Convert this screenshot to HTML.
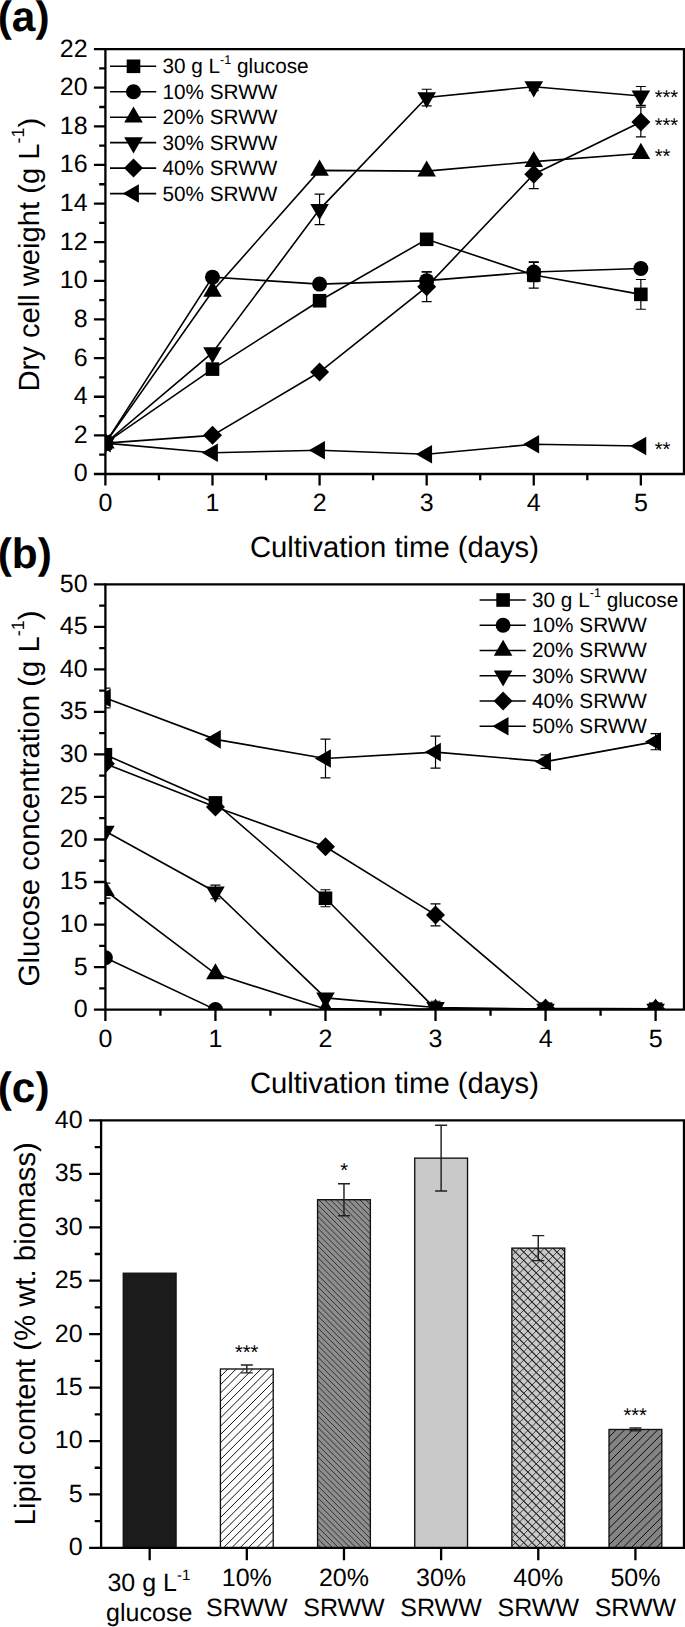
<!DOCTYPE html>
<html lang="en">
<head>
<meta charset="utf-8">
<title>Figure</title>
<style>html,body{margin:0;padding:0;background:#fff}body{width:685px;height:1627px;overflow:hidden}</style>
</head>
<body>
<svg width="685" height="1627" viewBox="0 0 685 1627" style="display:block" text-rendering="geometricPrecision">
<rect width="685" height="1627" fill="#fff"/>
<g id="panel-a">
<clipPath id="clipa"><rect x="105.4" y="49.05" width="578.6" height="424.95"/></clipPath>
<g clip-path="url(#clipa)">
<polyline fill="none" stroke="#000" stroke-width="1.6" points="105.40,443.09 212.49,369.11 319.58,300.74 426.67,239.31 533.76,275.05 640.85,294.36"/>
<g fill="none" stroke="#000" stroke-width="1.2">
<path d="M533.76 261.91V288.18M528.76 261.91H538.76M528.76 288.18H538.76"/>
<path d="M640.85 279.49V309.24M635.85 279.49H645.85M635.85 309.24H645.85"/>
</g>
<g fill="#000"><rect x="98.60" y="436.29" width="13.6" height="13.6"/><rect x="205.69" y="362.31" width="13.6" height="13.6"/><rect x="312.78" y="293.94" width="13.6" height="13.6"/><rect x="419.87" y="232.51" width="13.6" height="13.6"/><rect x="526.96" y="268.25" width="13.6" height="13.6"/><rect x="634.05" y="287.56" width="13.6" height="13.6"/></g>
<polyline fill="none" stroke="#000" stroke-width="1.6" points="105.40,443.09 212.49,277.17 319.58,284.12 426.67,280.65 533.76,271.96 640.85,268.48"/>
<g fill="none" stroke="#000" stroke-width="1.2">
<path d="M426.67 271.96V289.34M421.67 271.96H431.67M421.67 289.34H431.67"/>
<path d="M533.76 262.30V281.61M528.76 262.30H538.76M528.76 281.61H538.76"/>
</g>
<g fill="#000"><circle cx="105.40" cy="443.09" r="7.5"/><circle cx="212.49" cy="277.17" r="7.5"/><circle cx="319.58" cy="284.12" r="7.5"/><circle cx="426.67" cy="280.65" r="7.5"/><circle cx="533.76" cy="271.96" r="7.5"/><circle cx="640.85" cy="268.48" r="7.5"/></g>
<polyline fill="none" stroke="#000" stroke-width="1.6" points="105.40,443.09 212.49,291.27 319.58,170.35 426.67,171.13 533.76,161.66 640.85,153.55"/>
<g fill="none" stroke="#000" stroke-width="1.2">
</g>
<g fill="#000"><polygon points="105.40,432.36 96.10,448.46 114.70,448.46"/><polygon points="212.49,280.53 203.19,296.64 221.79,296.64"/><polygon points="319.58,159.62 310.28,175.72 328.88,175.72"/><polygon points="426.67,160.39 417.37,176.50 435.97,176.50"/><polygon points="533.76,150.92 524.46,167.03 543.06,167.03"/><polygon points="640.85,142.81 631.55,158.92 650.15,158.92"/></g>
<polyline fill="none" stroke="#000" stroke-width="1.6" points="105.40,443.09 212.49,352.70 319.58,209.37 426.67,97.53 533.76,86.72 640.85,95.99"/>
<g fill="none" stroke="#000" stroke-width="1.2">
<path d="M319.58 194.11V224.63M314.58 194.11H324.58M314.58 224.63H324.58"/>
<path d="M426.67 89.23V105.84M421.67 89.23H431.67M421.67 105.84H431.67"/>
<path d="M533.76 82.85V90.58M528.76 82.85H538.76M528.76 90.58H538.76"/>
<path d="M640.85 86.52V105.45M635.85 86.52H645.85M635.85 105.45H645.85"/>
</g>
<g fill="#000"><polygon points="105.40,453.83 96.10,437.73 114.70,437.73"/><polygon points="212.49,363.43 203.19,347.33 221.79,347.33"/><polygon points="319.58,220.11 310.28,204.00 328.88,204.00"/><polygon points="426.67,108.27 417.37,92.16 435.97,92.16"/><polygon points="533.76,97.45 524.46,81.35 543.06,81.35"/><polygon points="640.85,106.73 631.55,90.62 650.15,90.62"/></g>
<polyline fill="none" stroke="#000" stroke-width="1.6" points="105.40,443.09 212.49,435.37 319.58,372.01 426.67,286.83 533.76,174.22 640.85,122.06"/>
<g fill="none" stroke="#000" stroke-width="1.2">
<path d="M319.58 369.11V374.91M314.58 369.11H324.58M314.58 374.91H324.58"/>
<path d="M426.67 271.96V301.70M421.67 271.96H431.67M421.67 301.70H431.67"/>
<path d="M533.76 159.73V188.70M528.76 159.73H538.76M528.76 188.70H538.76"/>
<path d="M640.85 107.19V136.94M635.85 107.19H645.85M635.85 136.94H645.85"/>
</g>
<g fill="#000"><polygon points="105.40,433.59 114.90,443.09 105.40,452.59 95.90,443.09"/><polygon points="212.49,425.87 221.99,435.37 212.49,444.87 202.99,435.37"/><polygon points="319.58,362.51 329.08,372.01 319.58,381.51 310.08,372.01"/><polygon points="426.67,277.33 436.17,286.83 426.67,296.33 417.17,286.83"/><polygon points="533.76,164.72 543.26,174.22 533.76,183.72 524.26,174.22"/><polygon points="640.85,112.56 650.35,122.06 640.85,131.56 631.35,122.06"/></g>
<polyline fill="none" stroke="#000" stroke-width="1.6" points="105.40,443.09 212.49,452.75 319.58,450.24 426.67,454.30 533.76,444.25 640.85,445.99"/>
<g fill="none" stroke="#000" stroke-width="1.2">
</g>
<g fill="#000"><polygon points="94.66,443.09 110.77,433.79 110.77,452.39"/><polygon points="201.75,452.75 217.86,443.45 217.86,462.05"/><polygon points="308.84,450.24 324.95,440.94 324.95,459.54"/><polygon points="415.93,454.30 432.04,445.00 432.04,463.60"/><polygon points="523.02,444.25 539.13,434.95 539.13,453.55"/><polygon points="630.11,445.99 646.22,436.69 646.22,455.29"/></g>
</g>
<g fill="none" stroke="#000" stroke-width="2.3" stroke-linecap="butt">
<path d="M105.4 474.0V49.05H684.0V474.0"/>
<path d="M93.9 474.0H685.15"/>
<path d="M99.20 454.68H105.4M93.90 435.37H105.4M99.20 416.05H105.4M93.90 396.74H105.4M99.20 377.42H105.4M93.90 358.10H105.4M99.20 338.79H105.4M93.90 319.47H105.4M99.20 300.16H105.4M93.90 280.84H105.4M99.20 261.52H105.4M93.90 242.21H105.4M99.20 222.89H105.4M93.90 203.58H105.4M99.20 184.26H105.4M93.90 164.95H105.4M99.20 145.63H105.4M93.90 126.31H105.4M99.20 107.00H105.4M93.90 87.68H105.4M99.20 68.37H105.4M93.90 49.05H105.4"/>
<path d="M105.40 474.0V485.50M158.94 474.0V480.20M212.49 474.0V485.50M266.03 474.0V480.20M319.58 474.0V485.50M373.12 474.0V480.20M426.67 474.0V485.50M480.22 474.0V480.20M533.76 474.0V485.50M587.31 474.0V480.20M640.85 474.0V485.50"/>
</g>
<g font-family='"Liberation Sans", Arial, Helvetica, sans-serif' font-size="25" fill="#000">
<text x="87.6" y="481.4" text-anchor="end">0</text>
<text x="87.6" y="442.8" text-anchor="end">2</text>
<text x="87.6" y="404.1" text-anchor="end">4</text>
<text x="87.6" y="365.5" text-anchor="end">6</text>
<text x="87.6" y="326.9" text-anchor="end">8</text>
<text x="87.6" y="288.2" text-anchor="end">10</text>
<text x="87.6" y="249.6" text-anchor="end">12</text>
<text x="87.6" y="211.0" text-anchor="end">14</text>
<text x="87.6" y="172.3" text-anchor="end">16</text>
<text x="87.6" y="133.7" text-anchor="end">18</text>
<text x="87.6" y="95.1" text-anchor="end">20</text>
<text x="87.6" y="56.5" text-anchor="end">22</text>
<text x="105.4" y="510.5" text-anchor="middle">0</text>
<text x="212.5" y="510.5" text-anchor="middle">1</text>
<text x="319.6" y="510.5" text-anchor="middle">2</text>
<text x="426.7" y="510.5" text-anchor="middle">3</text>
<text x="533.8" y="510.5" text-anchor="middle">4</text>
<text x="640.9" y="510.5" text-anchor="middle">5</text>
</g>
<text font-family='"Liberation Sans", Arial, Helvetica, sans-serif' font-size="29.17" fill="#000" transform="translate(38.6 391.5) rotate(-90)">Dry cell weight (g L<tspan font-size="18" dy="-14.2">-1</tspan><tspan dy="14.2">)</tspan></text>
<text font-family='"Liberation Sans", Arial, Helvetica, sans-serif' font-size="29.22" fill="#000" x="249.9" y="557">Cultivation time (days)</text>
<text font-family='"Liberation Sans", Arial, Helvetica, sans-serif' font-size="42.4" font-weight="bold" fill="#000" x="-2.3" y="31">(a)</text>
<path d="M110.0 66.3H156.2" stroke="#000" stroke-width="1.6" fill="none"/>
<g fill="#000"><rect x="126.70" y="59.50" width="13.6" height="13.6"/></g>
<text font-family='"Liberation Sans", Arial, Helvetica, sans-serif' font-size="20.75" fill="#000" x="162.4" y="73.2">30 g L<tspan font-size="12.6" dy="-9.6">-1</tspan><tspan dy="9.6"> glucose</tspan></text>
<path d="M110.0 91.8H156.2" stroke="#000" stroke-width="1.6" fill="none"/>
<g fill="#000"><circle cx="133.50" cy="91.75" r="7.5"/></g>
<text font-family='"Liberation Sans", Arial, Helvetica, sans-serif' font-size="20.75" fill="#000" x="162.4" y="98.7">10% SRWW</text>
<path d="M110.0 117.2H156.2" stroke="#000" stroke-width="1.6" fill="none"/>
<g fill="#000"><polygon points="133.50,106.46 124.20,122.57 142.80,122.57"/></g>
<text font-family='"Liberation Sans", Arial, Helvetica, sans-serif' font-size="20.75" fill="#000" x="162.4" y="124.1">20% SRWW</text>
<path d="M110.0 142.6H156.2" stroke="#000" stroke-width="1.6" fill="none"/>
<g fill="#000"><polygon points="133.50,153.39 124.20,137.28 142.80,137.28"/></g>
<text font-family='"Liberation Sans", Arial, Helvetica, sans-serif' font-size="20.75" fill="#000" x="162.4" y="149.5">30% SRWW</text>
<path d="M110.0 168.1H156.2" stroke="#000" stroke-width="1.6" fill="none"/>
<g fill="#000"><polygon points="133.50,158.60 143.00,168.10 133.50,177.60 124.00,168.10"/></g>
<text font-family='"Liberation Sans", Arial, Helvetica, sans-serif' font-size="20.75" fill="#000" x="162.4" y="175.0">40% SRWW</text>
<path d="M110.0 193.6H156.2" stroke="#000" stroke-width="1.6" fill="none"/>
<g fill="#000"><polygon points="122.76,193.55 138.87,184.25 138.87,202.85"/></g>
<text font-family='"Liberation Sans", Arial, Helvetica, sans-serif' font-size="20.75" fill="#000" x="162.4" y="200.5">50% SRWW</text>
<text font-family='"Liberation Sans", Arial, Helvetica, sans-serif' font-size="20" fill="#000" x="654.8" y="104.3">***</text>
<text font-family='"Liberation Sans", Arial, Helvetica, sans-serif' font-size="20" fill="#000" x="654.8" y="132.4">***</text>
<text font-family='"Liberation Sans", Arial, Helvetica, sans-serif' font-size="20" fill="#000" x="654.8" y="163.2">**</text>
<text font-family='"Liberation Sans", Arial, Helvetica, sans-serif' font-size="20" fill="#000" x="654.8" y="455.8">**</text>
</g>
<g id="panel-b">
<clipPath id="clipb"><rect x="105.4" y="584.3" width="578.6" height="425.30000000000007"/></clipPath>
<g clip-path="url(#clipb)">
<polyline fill="none" stroke="#000" stroke-width="1.6" points="105.40,754.76 215.44,802.90 325.48,898.26 435.52,1008.92 545.56,1009.17 655.60,1009.17"/>
<g fill="none" stroke="#000" stroke-width="1.2">
<path d="M325.48 889.75V906.76M320.48 889.75H330.48M320.48 906.76H330.48"/>
<path d="M435.52 1001.26V1016.57M430.52 1001.26H440.52M430.52 1016.57H440.52"/>
</g>
<g fill="#000"><rect x="98.60" y="747.96" width="13.6" height="13.6"/><rect x="208.64" y="796.10" width="13.6" height="13.6"/><rect x="318.68" y="891.46" width="13.6" height="13.6"/><rect x="428.72" y="1002.12" width="13.6" height="13.6"/><rect x="538.76" y="1002.37" width="13.6" height="13.6"/><rect x="648.80" y="1002.37" width="13.6" height="13.6"/></g>
<polyline fill="none" stroke="#000" stroke-width="1.6" points="105.40,957.71 215.44,1009.60"/>
<g fill="none" stroke="#000" stroke-width="1.2">
</g>
<g fill="#000"><circle cx="105.40" cy="957.71" r="7.5"/><circle cx="215.44" cy="1009.60" r="7.5"/></g>
<polyline fill="none" stroke="#000" stroke-width="1.6" points="105.40,890.69 215.44,973.87 325.48,1008.92 435.52,1009.17 545.56,1009.17 655.60,1009.17"/>
<g fill="none" stroke="#000" stroke-width="1.2">
<path d="M105.40 883.20V898.17M100.40 883.20H110.40M100.40 898.17H110.40"/>
</g>
<g fill="#000"><polygon points="105.40,879.95 96.10,896.06 114.70,896.06"/><polygon points="215.44,963.14 206.14,979.24 224.74,979.24"/><polygon points="325.48,998.18 316.18,1014.29 334.78,1014.29"/><polygon points="435.52,998.44 426.22,1014.54 444.82,1014.54"/><polygon points="545.56,998.44 536.26,1014.54 554.86,1014.54"/><polygon points="655.60,998.44 646.30,1014.54 664.90,1014.54"/></g>
<polyline fill="none" stroke="#000" stroke-width="1.6" points="105.40,831.23 215.44,891.96 325.48,997.86 435.52,1007.47 545.56,1009.17 655.60,1009.17"/>
<g fill="none" stroke="#000" stroke-width="1.2">
<path d="M215.44 885.16V898.77M210.44 885.16H220.44M210.44 898.77H220.44"/>
</g>
<g fill="#000"><polygon points="105.40,841.97 96.10,825.86 114.70,825.86"/><polygon points="215.44,902.70 206.14,886.59 224.74,886.59"/><polygon points="325.48,1008.60 316.18,992.49 334.78,992.49"/><polygon points="435.52,1018.21 426.22,1002.10 444.82,1002.10"/><polygon points="545.56,1019.91 536.26,1003.81 554.86,1003.81"/><polygon points="655.60,1019.91 646.30,1003.81 664.90,1003.81"/></g>
<polyline fill="none" stroke="#000" stroke-width="1.6" points="105.40,763.78 215.44,806.90 325.48,846.71 435.52,914.93 545.56,1008.32 655.60,1008.75"/>
<g fill="none" stroke="#000" stroke-width="1.2">
<path d="M435.52 903.96V925.90M430.52 903.96H440.52M430.52 925.90H440.52"/>
</g>
<g fill="#000"><polygon points="105.40,754.28 114.90,763.78 105.40,773.28 95.90,763.78"/><polygon points="215.44,797.40 224.94,806.90 215.44,816.40 205.94,806.90"/><polygon points="325.48,837.21 334.98,846.71 325.48,856.21 315.98,846.71"/><polygon points="435.52,905.43 445.02,914.93 435.52,924.43 426.02,914.93"/><polygon points="545.56,998.82 555.06,1008.32 545.56,1017.82 536.06,1008.32"/><polygon points="655.60,999.25 665.10,1008.75 655.60,1018.25 646.10,1008.75"/></g>
<polyline fill="none" stroke="#000" stroke-width="1.6" points="105.40,698.03 215.44,739.36 325.48,758.50 435.52,752.12 545.56,761.65 655.60,741.66"/>
<g fill="none" stroke="#000" stroke-width="1.2">
<path d="M105.40 688.16V707.89M100.40 688.16H110.40M100.40 707.89H110.40"/>
<path d="M325.48 739.11V777.90M320.48 739.11H330.48M320.48 777.90H330.48"/>
<path d="M435.52 736.22V768.03M430.52 736.22H440.52M430.52 768.03H440.52"/>
<path d="M545.56 754.85V768.45M540.56 754.85H550.56M540.56 768.45H550.56"/>
<path d="M655.60 733.58V749.74M650.60 733.58H660.60M650.60 749.74H660.60"/>
</g>
<g fill="#000"><polygon points="94.66,698.03 110.77,688.73 110.77,707.33"/><polygon points="204.70,739.36 220.81,730.06 220.81,748.66"/><polygon points="314.74,758.50 330.85,749.20 330.85,767.80"/><polygon points="424.78,752.12 440.89,742.82 440.89,761.42"/><polygon points="534.82,761.65 550.93,752.35 550.93,770.95"/><polygon points="644.86,741.66 660.97,732.36 660.97,750.96"/></g>
</g>
<g fill="none" stroke="#000" stroke-width="2.3" stroke-linecap="butt">
<path d="M105.4 1009.6V584.3H684.0V1009.6"/>
<path d="M93.9 1009.6H685.15"/>
<path d="M99.20 988.34H105.4M93.90 967.07H105.4M99.20 945.81H105.4M93.90 924.54H105.4M99.20 903.27H105.4M93.90 882.01H105.4M99.20 860.75H105.4M93.90 839.48H105.4M99.20 818.21H105.4M93.90 796.95H105.4M99.20 775.68H105.4M93.90 754.42H105.4M99.20 733.15H105.4M93.90 711.89H105.4M99.20 690.62H105.4M93.90 669.36H105.4M99.20 648.09H105.4M93.90 626.83H105.4M99.20 605.56H105.4M93.90 584.30H105.4"/>
<path d="M105.40 1009.6V1021.10M160.42 1009.6V1015.80M215.44 1009.6V1021.10M270.46 1009.6V1015.80M325.48 1009.6V1021.10M380.50 1009.6V1015.80M435.52 1009.6V1021.10M490.54 1009.6V1015.80M545.56 1009.6V1021.10M600.58 1009.6V1015.80M655.60 1009.6V1021.10"/>
</g>
<g font-family='"Liberation Sans", Arial, Helvetica, sans-serif' font-size="25" fill="#000">
<text x="87.6" y="1017.0" text-anchor="end">0</text>
<text x="87.6" y="974.5" text-anchor="end">5</text>
<text x="87.6" y="931.9" text-anchor="end">10</text>
<text x="87.6" y="889.4" text-anchor="end">15</text>
<text x="87.6" y="846.9" text-anchor="end">20</text>
<text x="87.6" y="804.3" text-anchor="end">25</text>
<text x="87.6" y="761.8" text-anchor="end">30</text>
<text x="87.6" y="719.3" text-anchor="end">35</text>
<text x="87.6" y="676.8" text-anchor="end">40</text>
<text x="87.6" y="634.2" text-anchor="end">45</text>
<text x="87.6" y="591.7" text-anchor="end">50</text>
<text x="105.4" y="1046.7" text-anchor="middle">0</text>
<text x="215.4" y="1046.7" text-anchor="middle">1</text>
<text x="325.5" y="1046.7" text-anchor="middle">2</text>
<text x="435.5" y="1046.7" text-anchor="middle">3</text>
<text x="545.6" y="1046.7" text-anchor="middle">4</text>
<text x="655.6" y="1046.7" text-anchor="middle">5</text>
</g>
<text font-family='"Liberation Sans", Arial, Helvetica, sans-serif' font-size="29.3" fill="#000" transform="translate(38.6 986.4) rotate(-90)">Glucose concentration (g L<tspan font-size="18" dy="-14.2">-1</tspan><tspan dy="14.2">)</tspan></text>
<text font-family='"Liberation Sans", Arial, Helvetica, sans-serif' font-size="29.22" fill="#000" x="249.9" y="1093">Cultivation time (days)</text>
<text font-family='"Liberation Sans", Arial, Helvetica, sans-serif' font-size="42.4" font-weight="bold" fill="#000" x="-2.3" y="568.2">(b)</text>
<path d="M479.6 600.0H525.8" stroke="#000" stroke-width="1.6" fill="none"/>
<g fill="#000"><rect x="496.30" y="593.20" width="13.6" height="13.6"/></g>
<text font-family='"Liberation Sans", Arial, Helvetica, sans-serif' font-size="20.75" fill="#000" x="532.0" y="606.9">30 g L<tspan font-size="12.6" dy="-9.6">-1</tspan><tspan dy="9.6"> glucose</tspan></text>
<path d="M479.6 625.2H525.8" stroke="#000" stroke-width="1.6" fill="none"/>
<g fill="#000"><circle cx="503.10" cy="625.25" r="7.5"/></g>
<text font-family='"Liberation Sans", Arial, Helvetica, sans-serif' font-size="20.75" fill="#000" x="532.0" y="632.1">10% SRWW</text>
<path d="M479.6 650.5H525.8" stroke="#000" stroke-width="1.6" fill="none"/>
<g fill="#000"><polygon points="503.10,639.76 493.80,655.87 512.40,655.87"/></g>
<text font-family='"Liberation Sans", Arial, Helvetica, sans-serif' font-size="20.75" fill="#000" x="532.0" y="657.4">20% SRWW</text>
<path d="M479.6 675.8H525.8" stroke="#000" stroke-width="1.6" fill="none"/>
<g fill="#000"><polygon points="503.10,686.49 493.80,670.38 512.40,670.38"/></g>
<text font-family='"Liberation Sans", Arial, Helvetica, sans-serif' font-size="20.75" fill="#000" x="532.0" y="682.6">30% SRWW</text>
<path d="M479.6 701.0H525.8" stroke="#000" stroke-width="1.6" fill="none"/>
<g fill="#000"><polygon points="503.10,691.50 512.60,701.00 503.10,710.50 493.60,701.00"/></g>
<text font-family='"Liberation Sans", Arial, Helvetica, sans-serif' font-size="20.75" fill="#000" x="532.0" y="707.9">40% SRWW</text>
<path d="M479.6 726.2H525.8" stroke="#000" stroke-width="1.6" fill="none"/>
<g fill="#000"><polygon points="492.36,726.25 508.47,716.95 508.47,735.55"/></g>
<text font-family='"Liberation Sans", Arial, Helvetica, sans-serif' font-size="20.75" fill="#000" x="532.0" y="733.1">50% SRWW</text>
</g>
<g id="panel-c">
<rect x="123.27" y="1273.23" width="52.8" height="274.67" fill="#1b1b1b"/>
<rect x="123.27" y="1273.23" width="52.8" height="274.67" fill="none" stroke="#111" stroke-width="1.35"/>
<rect x="220.42" y="1368.99" width="52.8" height="178.91" fill="#ffffff"/>
<path d="M220.42 1376.47L227.91 1368.99M220.42 1384.77L236.21 1368.99M220.42 1393.07L244.51 1368.99M220.42 1401.37L252.81 1368.99M220.42 1409.67L261.11 1368.99M220.42 1417.97L269.41 1368.99M220.42 1426.27L273.22 1373.47M220.42 1434.57L273.22 1381.77M220.42 1442.87L273.22 1390.07M220.42 1451.17L273.22 1398.37M220.42 1459.47L273.22 1406.67M220.42 1467.77L273.22 1414.97M220.42 1476.07L273.22 1423.27M220.42 1484.37L273.22 1431.57M220.42 1492.67L273.22 1439.87M220.42 1500.97L273.22 1448.17M220.42 1509.27L273.22 1456.47M220.42 1517.57L273.22 1464.77M220.42 1525.87L273.22 1473.07M220.42 1534.17L273.22 1481.37M220.42 1542.47L273.22 1489.67M223.30 1547.90L273.22 1497.97M231.60 1547.90L273.22 1506.27M239.90 1547.90L273.22 1514.57M248.20 1547.90L273.22 1522.87M256.50 1547.90L273.22 1531.17M264.80 1547.90L273.22 1539.47M273.10 1547.90L273.22 1547.77" fill="none" stroke="#111" stroke-width="1.0"/>
<rect x="220.42" y="1368.99" width="52.8" height="178.91" fill="none" stroke="#111" stroke-width="1.35"/>
<g fill="none" stroke="#222" stroke-width="1.45"><path d="M246.82 1365.09V1372.89M240.82 1365.09H252.82M240.82 1372.89H252.82"/></g>
<rect x="317.57" y="1199.70" width="52.8" height="348.20" fill="#8e8e8e"/>
<path d="M365.56 1199.70L370.37 1204.52M359.70 1199.70L370.37 1210.38M353.84 1199.70L370.37 1216.24M347.98 1199.70L370.37 1222.10M342.12 1199.70L370.37 1227.96M336.26 1199.70L370.37 1233.82M330.40 1199.70L370.37 1239.68M324.54 1199.70L370.37 1245.54M318.68 1199.70L370.37 1251.40M317.57 1204.46L370.37 1257.26M317.57 1210.32L370.37 1263.12M317.57 1216.18L370.37 1268.98M317.57 1222.04L370.37 1274.84M317.57 1227.90L370.37 1280.70M317.57 1233.76L370.37 1286.56M317.57 1239.62L370.37 1292.42M317.57 1245.48L370.37 1298.28M317.57 1251.34L370.37 1304.14M317.57 1257.20L370.37 1310.00M317.57 1263.06L370.37 1315.86M317.57 1268.92L370.37 1321.72M317.57 1274.78L370.37 1327.58M317.57 1280.64L370.37 1333.44M317.57 1286.50L370.37 1339.30M317.57 1292.36L370.37 1345.16M317.57 1298.22L370.37 1351.02M317.57 1304.08L370.37 1356.88M317.57 1309.94L370.37 1362.74M317.57 1315.80L370.37 1368.60M317.57 1321.66L370.37 1374.46M317.57 1327.52L370.37 1380.32M317.57 1333.38L370.37 1386.18M317.57 1339.24L370.37 1392.04M317.57 1345.10L370.37 1397.90M317.57 1350.96L370.37 1403.76M317.57 1356.82L370.37 1409.62M317.57 1362.68L370.37 1415.48M317.57 1368.54L370.37 1421.34M317.57 1374.39L370.37 1427.19M317.57 1380.25L370.37 1433.05M317.57 1386.11L370.37 1438.91M317.57 1391.97L370.37 1444.77M317.57 1397.83L370.37 1450.63M317.57 1403.69L370.37 1456.49M317.57 1409.55L370.37 1462.35M317.57 1415.41L370.37 1468.21M317.57 1421.27L370.37 1474.07M317.57 1427.13L370.37 1479.93M317.57 1432.99L370.37 1485.79M317.57 1438.85L370.37 1491.65M317.57 1444.71L370.37 1497.51M317.57 1450.57L370.37 1503.37M317.57 1456.43L370.37 1509.23M317.57 1462.29L370.37 1515.09M317.57 1468.15L370.37 1520.95M317.57 1474.01L370.37 1526.81M317.57 1479.87L370.37 1532.67M317.57 1485.73L370.37 1538.53M317.57 1491.59L370.37 1544.39M317.57 1497.45L368.02 1547.90M317.57 1503.31L362.16 1547.90M317.57 1509.17L356.30 1547.90M317.57 1515.03L350.44 1547.90M317.57 1520.89L344.58 1547.90M317.57 1526.75L338.72 1547.90M317.57 1532.61L332.86 1547.90M317.57 1538.47L327.00 1547.90M317.57 1544.33L321.14 1547.90" fill="none" stroke="#181818" stroke-width="0.8"/>
<rect x="317.57" y="1199.70" width="52.8" height="348.20" fill="none" stroke="#111" stroke-width="1.35"/>
<g fill="none" stroke="#222" stroke-width="1.45"><path d="M343.97 1183.67V1215.73M337.97 1183.67H349.97M337.97 1215.73H349.97"/></g>
<rect x="414.73" y="1158.13" width="52.8" height="389.77" fill="#c9c9c9"/>
<rect x="414.73" y="1158.13" width="52.8" height="389.77" fill="none" stroke="#111" stroke-width="1.35"/>
<g fill="none" stroke="#222" stroke-width="1.45"><path d="M441.12 1125.32V1190.94M435.12 1125.32H447.12M435.12 1190.94H447.12"/></g>
<rect x="511.88" y="1248.12" width="52.8" height="299.78" fill="#c9c9c9"/>
<path d="M561.22 1248.12L564.67 1251.57M552.92 1248.12L564.67 1259.88M544.62 1248.12L564.67 1268.17M536.32 1248.12L564.67 1276.47M528.02 1248.12L564.67 1284.77M519.72 1248.12L564.67 1293.07M511.88 1248.57L564.67 1301.37M511.88 1256.87L564.67 1309.67M511.88 1265.17L564.67 1317.97M511.88 1273.47L564.67 1326.27M511.88 1281.77L564.67 1334.57M511.88 1290.07L564.67 1342.87M511.88 1298.37L564.67 1351.17M511.88 1306.67L564.67 1359.47M511.88 1314.97L564.67 1367.77M511.88 1323.27L564.67 1376.07M511.88 1331.57L564.67 1384.37M511.88 1339.87L564.67 1392.67M511.88 1348.17L564.67 1400.97M511.88 1356.47L564.67 1409.27M511.88 1364.77L564.67 1417.57M511.88 1373.07L564.67 1425.87M511.88 1381.37L564.67 1434.17M511.88 1389.67L564.67 1442.47M511.88 1397.97L564.67 1450.77M511.88 1406.27L564.67 1459.07M511.88 1414.57L564.67 1467.37M511.88 1422.87L564.67 1475.67M511.88 1431.17L564.67 1483.97M511.88 1439.47L564.67 1492.27M511.88 1447.77L564.67 1500.57M511.88 1456.07L564.67 1508.87M511.88 1464.37L564.67 1517.17M511.88 1472.67L564.67 1525.47M511.88 1480.97L564.67 1533.77M511.88 1489.27L564.67 1542.07M511.88 1497.57L562.20 1547.90M511.88 1505.87L553.90 1547.90M511.88 1514.17L545.60 1547.90M511.88 1522.47L537.30 1547.90M511.88 1530.77L529.00 1547.90M511.88 1539.07L520.70 1547.90M511.88 1547.37L512.40 1547.90" fill="none" stroke="#181818" stroke-width="1.05"/>
<path d="M511.88 1255.72L519.48 1248.12M511.88 1264.02L527.78 1248.12M511.88 1272.32L536.08 1248.12M511.88 1280.62L544.38 1248.12M511.88 1288.92L552.68 1248.12M511.88 1297.22L560.98 1248.12M511.88 1305.52L564.67 1252.72M511.88 1313.82L564.67 1261.02M511.88 1322.12L564.67 1269.32M511.88 1330.42L564.67 1277.62M511.88 1338.72L564.67 1285.92M511.88 1347.02L564.67 1294.22M511.88 1355.32L564.67 1302.52M511.88 1363.62L564.67 1310.82M511.88 1371.92L564.67 1319.12M511.88 1380.22L564.67 1327.42M511.88 1388.52L564.67 1335.72M511.88 1396.82L564.67 1344.02M511.88 1405.12L564.67 1352.32M511.88 1413.42L564.67 1360.62M511.88 1421.72L564.67 1368.92M511.88 1430.02L564.67 1377.22M511.88 1438.32L564.67 1385.52M511.88 1446.62L564.67 1393.82M511.88 1454.92L564.67 1402.12M511.88 1463.22L564.67 1410.42M511.88 1471.52L564.67 1418.72M511.88 1479.82L564.67 1427.02M511.88 1488.12L564.67 1435.32M511.88 1496.42L564.67 1443.62M511.88 1504.72L564.67 1451.92M511.88 1513.02L564.67 1460.22M511.88 1521.32L564.67 1468.52M511.88 1529.62L564.67 1476.82M511.88 1537.92L564.67 1485.12M511.88 1546.22L564.67 1493.42M518.50 1547.90L564.67 1501.72M526.80 1547.90L564.67 1510.02M535.10 1547.90L564.67 1518.32M543.40 1547.90L564.67 1526.62M551.70 1547.90L564.67 1534.92M560.00 1547.90L564.67 1543.22" fill="none" stroke="#222" stroke-width="0.85"/>
<rect x="511.88" y="1248.12" width="52.8" height="299.78" fill="none" stroke="#111" stroke-width="1.35"/>
<g fill="none" stroke="#222" stroke-width="1.45"><path d="M538.27 1235.61V1260.62M532.27 1235.61H544.27M532.27 1260.62H544.27"/></g>
<rect x="609.02" y="1429.48" width="52.8" height="118.42" fill="#848484"/>
<path d="M609.02 1437.07L616.62 1429.48M609.02 1445.38L624.92 1429.48M609.02 1453.68L633.22 1429.48M609.02 1461.98L641.52 1429.48M609.02 1470.28L649.82 1429.48M609.02 1478.58L658.12 1429.48M609.02 1486.88L661.82 1434.08M609.02 1495.18L661.82 1442.38M609.02 1503.48L661.82 1450.68M609.02 1511.78L661.82 1458.98M609.02 1520.08L661.82 1467.28M609.02 1528.38L661.82 1475.58M609.02 1536.68L661.82 1483.88M609.02 1544.98L661.82 1492.18M614.40 1547.90L661.82 1500.48M622.70 1547.90L661.82 1508.78M631.00 1547.90L661.82 1517.08M639.30 1547.90L661.82 1525.38M647.60 1547.90L661.82 1533.68M655.90 1547.90L661.82 1541.98" fill="none" stroke="#0a0a0a" stroke-width="1.0"/>
<rect x="609.02" y="1429.48" width="52.8" height="118.42" fill="none" stroke="#111" stroke-width="1.35"/>
<g fill="none" stroke="#222" stroke-width="1.45"><path d="M635.42 1428.09V1430.87M629.42 1428.09H641.42M629.42 1430.87H641.42"/></g>
<g fill="none" stroke="#000" stroke-width="2.3">
<path d="M101.1 1547.9V1120.4H684.0V1547.9"/>
<path d="M89.1 1547.9H685.15"/>
<path d="M94.70 1521.18H101.1M89.10 1494.46H101.1M94.70 1467.74H101.1M89.10 1441.03H101.1M94.70 1414.31H101.1M89.10 1387.59H101.1M94.70 1360.87H101.1M89.10 1334.15H101.1M94.70 1307.43H101.1M89.10 1280.71H101.1M94.70 1253.99H101.1M89.10 1227.28H101.1M94.70 1200.56H101.1M89.10 1173.84H101.1M94.70 1147.12H101.1M89.10 1120.40H101.1M149.67 1547.9V1560.20M246.82 1547.9V1560.20M343.97 1547.9V1560.20M441.12 1547.9V1560.20M538.27 1547.9V1560.20M635.42 1547.9V1560.20"/>
</g>
<g font-family='"Liberation Sans", Arial, Helvetica, sans-serif' font-size="25" fill="#000">
<text x="82.6" y="1555.3" text-anchor="end">0</text>
<text x="82.6" y="1501.9" text-anchor="end">5</text>
<text x="82.6" y="1448.4" text-anchor="end">10</text>
<text x="82.6" y="1395.0" text-anchor="end">15</text>
<text x="82.6" y="1341.6" text-anchor="end">20</text>
<text x="82.6" y="1288.1" text-anchor="end">25</text>
<text x="82.6" y="1234.7" text-anchor="end">30</text>
<text x="82.6" y="1181.2" text-anchor="end">35</text>
<text x="82.6" y="1127.8" text-anchor="end">40</text>
<text x="246.8" y="1585.8" text-anchor="middle">10%</text>
<text x="246.8" y="1616.2" text-anchor="middle">SRWW</text>
<text x="344.0" y="1585.8" text-anchor="middle">20%</text>
<text x="344.0" y="1616.2" text-anchor="middle">SRWW</text>
<text x="441.1" y="1585.8" text-anchor="middle">30%</text>
<text x="441.1" y="1616.2" text-anchor="middle">SRWW</text>
<text x="538.3" y="1585.8" text-anchor="middle">40%</text>
<text x="538.3" y="1616.2" text-anchor="middle">SRWW</text>
<text x="635.4" y="1585.8" text-anchor="middle">50%</text>
<text x="635.4" y="1616.2" text-anchor="middle">SRWW</text>
<text x="148.9" y="1590.5" text-anchor="middle">30 g L<tspan font-size="15" dy="-10.4">-1</tspan></text>
<text x="149.2" y="1620.9" text-anchor="middle">glucose</text>
</g>
<text font-family='"Liberation Sans", Arial, Helvetica, sans-serif' font-size="29.35" fill="#000" transform="translate(35.4 1525.4) rotate(-90)">Lipid content (% wt. biomass)</text>
<text font-family='"Liberation Sans", Arial, Helvetica, sans-serif' font-size="42.4" font-weight="bold" fill="#000" x="-2.3" y="1102.3">(c)</text>
<text font-family='"Liberation Sans", Arial, Helvetica, sans-serif' font-size="20" fill="#000" x="246.7" y="1358.7" text-anchor="middle">***</text>
<text font-family='"Liberation Sans", Arial, Helvetica, sans-serif' font-size="20" fill="#000" x="344.1" y="1176.6" text-anchor="middle">*</text>
<text font-family='"Liberation Sans", Arial, Helvetica, sans-serif' font-size="20" fill="#000" x="635.1" y="1421.6" text-anchor="middle">***</text>
</g>
</svg>
</body>
</html>
